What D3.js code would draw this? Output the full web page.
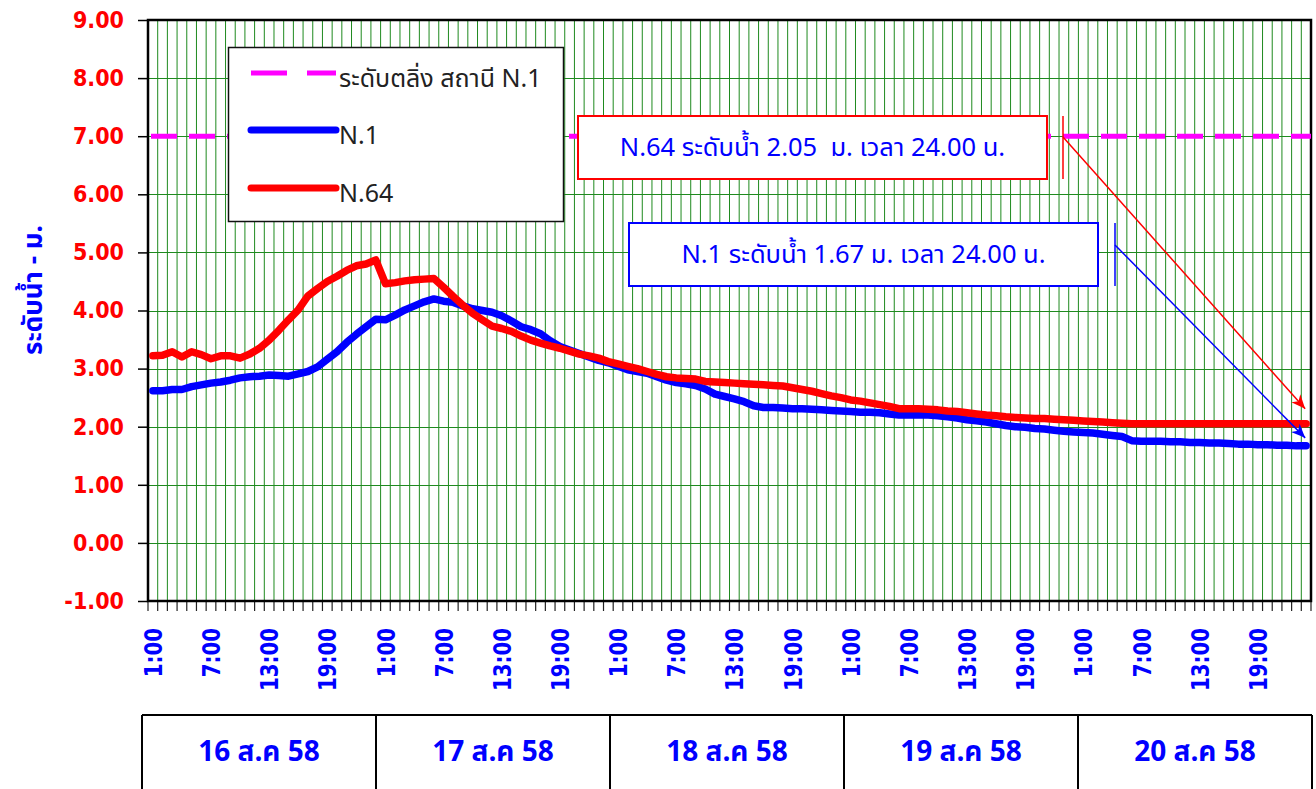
<!DOCTYPE html>
<html><head><meta charset="utf-8">
<script src="https://cdn.jsdelivr.net/npm/d3@7"></script>
<style>body{margin:0;background:#fff;} svg{display:block;}</style>
</head><body>
<svg id="c" width="1316" height="789"></svg>
<script>
// ---------------- data ----------------
const days = ["16 ส.ค 58","17 ส.ค 58","18 ส.ค 58","19 ส.ค 58","20 ส.ค 58"];
const hours = ["1:00","2:00","3:00","4:00","5:00","6:00","7:00","8:00","9:00","10:00","11:00","12:00",
               "13:00","14:00","15:00","16:00","17:00","18:00","19:00","20:00","21:00","22:00","23:00","24:00"];
const shownHours = ["1:00","7:00","13:00","19:00"];
const yTicks = [-1,0,1,2,3,4,5,6,7,8,9];
const bankLevel = 7.00;
const seriesNames = ["ระดับตลิ่ง สถานี N.1","N.1","N.64"];
const noteTexts = ["N.64 ระดับน้ำ 2.05  ม. เวลา 24.00 น.","N.1 ระดับน้ำ 1.67 ม. เวลา 24.00 น."];
const yTitle = "ระดับน้ำ - ม.";

const n1 = [
 2.62,2.62,2.64,2.64,2.69,2.72,2.75,2.77,2.80,2.84,2.86,2.87,2.89,2.88,2.87,2.91,2.95,3.03,3.16,3.29,3.45,3.59,3.72,3.85,
 3.84,3.92,4.01,4.08,4.15,4.20,4.16,4.14,4.08,4.03,4.00,3.97,3.91,3.82,3.72,3.67,3.60,3.48,3.38,3.32,3.26,3.20,3.14,3.10,
 3.04,2.98,2.95,2.92,2.86,2.80,2.76,2.74,2.71,2.65,2.56,2.52,2.48,2.43,2.36,2.33,2.33,2.32,2.31,2.31,2.30,2.29,2.28,2.27,
 2.26,2.25,2.25,2.24,2.22,2.20,2.20,2.20,2.20,2.19,2.17,2.15,2.12,2.10,2.08,2.05,2.02,2.00,1.99,1.97,1.96,1.94,1.92,1.91,
 1.90,1.89,1.87,1.85,1.83,1.76,1.75,1.75,1.75,1.74,1.74,1.73,1.73,1.72,1.72,1.71,1.70,1.70,1.69,1.69,1.68,1.68,1.67,1.67
];
const n64 = [
 3.22,3.23,3.29,3.20,3.29,3.24,3.17,3.22,3.22,3.18,3.25,3.35,3.49,3.66,3.84,4.01,4.25,4.38,4.50,4.59,4.69,4.77,4.80,4.87,
 4.46,4.48,4.51,4.53,4.54,4.55,4.40,4.24,4.09,3.95,3.84,3.73,3.69,3.64,3.56,3.49,3.44,3.39,3.35,3.30,3.25,3.22,3.18,3.12,
 3.08,3.04,3.00,2.95,2.90,2.86,2.84,2.83,2.82,2.78,2.77,2.76,2.75,2.74,2.73,2.72,2.71,2.70,2.67,2.64,2.61,2.57,2.53,2.50,
 2.46,2.44,2.41,2.38,2.35,2.31,2.31,2.31,2.30,2.29,2.27,2.26,2.24,2.22,2.20,2.19,2.17,2.16,2.15,2.14,2.14,2.13,2.12,2.11,
 2.10,2.09,2.08,2.07,2.06,2.05,2.05,2.05,2.05,2.05,2.05,2.05,2.05,2.05,2.05,2.05,2.05,2.05,2.05,2.05,2.05,2.05,2.05,2.05
];

// ---------------- layout ----------------
const L = 148, R = 1311, T = 20, B = 601;
const numFont = "'DejaVu Sans Condensed','DejaVu Sans',sans-serif";
const thaiFont = "Tahoma,'Noto Sans Thai','Noto Sans Thai UI','Loma','Garuda','Noto Sans','DejaVu Sans',sans-serif";
const BLUE = "#0000ff", RED = "#ff0000", MAG = "#ff00ff", GRID = "#1f8a1f";

const cats = days.flatMap(d => hours.map(h => d + "|" + h));
const x = d3.scaleBand().domain(cats).range([L, R]).padding(0);
const cx = i => x(cats[i]) + x.bandwidth() / 2;
const y = d3.scaleLinear().domain([-1, 9]).range([B, T]);

const svg = d3.select("#c");
svg.append("rect").attr("width", 1316).attr("height", 789).attr("fill", "#fff");

// vertical grid lines (category boundaries)
const bounds = cats.map(c => x(c)).concat([R]);
svg.append("g").selectAll("line").data(bounds.slice(1, -1)).join("line")
  .attr("x1", d => d).attr("x2", d => d).attr("y1", T).attr("y2", B)
  .attr("stroke", GRID).attr("stroke-width", 1);

// horizontal grid lines
svg.append("g").selectAll("line").data(yTicks).join("line")
  .attr("x1", L).attr("x2", R).attr("y1", d => Math.round(y(d)) + 0.5).attr("y2", d => Math.round(y(d)) + 0.5)
  .attr("stroke", GRID).attr("stroke-width", 1.2);

// y axis
const yAxis = svg.append("g").attr("transform", `translate(${L},0)`)
  .call(d3.axisLeft(y).tickValues(yTicks).tickSize(10).tickPadding(14).tickFormat(d => d.toFixed(2)));
yAxis.select(".domain").remove();
yAxis.selectAll(".tick line").attr("stroke", "#000").attr("stroke-width", 1.5);
yAxis.selectAll(".tick text").attr("fill", RED).attr("font-family", numFont).attr("font-size", 23)
  .attr("font-weight", "bold");

// x tick marks at category boundaries
svg.append("g").selectAll("line").data(bounds).join("line")
  .attr("x1", d => d).attr("x2", d => d).attr("y1", B).attr("y2", B + 10)
  .attr("stroke", "#222").attr("stroke-width", 1.2);

// x tick labels
const labIdx = d3.range(cats.length).filter(i => shownHours.includes(cats[i].split("|")[1]));
svg.append("g").selectAll("text").data(labIdx).join("text")
  .attr("transform", i => `translate(${cx(i)},628) rotate(-90) scale(1,1.15)`)
  .attr("text-anchor", "end").attr("dy", "0.36em")
  .attr("fill", BLUE).attr("font-family", numFont).attr("font-size", 22).attr("font-weight", "bold")
  .text(i => cats[i].split("|")[1]);

// plot border
svg.append("rect").attr("x", L).attr("y", T).attr("width", R - L).attr("height", B - T)
  .attr("fill", "none").attr("stroke", "#000").attr("stroke-width", 2.5);

// bank level dashed line
svg.append("line").attr("x1", L + 3).attr("x2", R).attr("y1", y(bankLevel)).attr("y2", y(bankLevel))
  .attr("stroke", MAG).attr("stroke-width", 5).attr("stroke-dasharray", "26 12");

// series lines
const line = d3.line().x((d, i) => cx(i)).y(d => y(d));
svg.append("path").datum(n1).attr("d", line).attr("fill", "none").attr("stroke", BLUE)
  .attr("stroke-width", 7.5).attr("stroke-linejoin", "round").attr("stroke-linecap", "round");
svg.append("path").datum(n64).attr("d", line).attr("fill", "none").attr("stroke", RED)
  .attr("stroke-width", 7.5).attr("stroke-linejoin", "round").attr("stroke-linecap", "round");

// legend
const lg = svg.append("g");
lg.append("rect").attr("x", 228.5).attr("y", 47.5).attr("width", 335).attr("height", 174)
  .attr("fill", "#fff").attr("stroke", "#111").attr("stroke-width", 1.5);
const legendRows = [
  {name: seriesNames[0], color: MAG, dash: "36 20", w: 5, cap: "butt", ly: 73},
  {name: seriesNames[1], color: BLUE, dash: null, w: 7, cap: "round", ly: 130},
  {name: seriesNames[2], color: RED, dash: null, w: 7, cap: "round", ly: 188}
];
legendRows.forEach(r => {
  lg.append("line").attr("x1", 251).attr("x2", 336).attr("y1", r.ly).attr("y2", r.ly)
    .attr("stroke", r.color).attr("stroke-width", r.w).attr("stroke-linecap", r.cap)
    .attr("stroke-dasharray", r.dash);
  lg.append("text").attr("x", 339).attr("y", r.ly + 14).attr("fill", "#222")
    .attr("font-family", thaiFont).attr("font-size", 25).text(r.name);
});

// annotations
const notes = [
  {text: noteTexts[0], color: RED, bx: 578, by: 116, bw: 469, bh: 63, tickX: 1063, startY: 137,
   series: n64, tipDy: -15},
  {text: noteTexts[1], color: BLUE, bx: 629, by: 223, bw: 469, bh: 63, tickX: 1115, startY: 245,
   series: n1, tipDy: -8}
];
const defs = svg.append("defs");
notes.forEach((n, k) => {
  defs.append("marker").attr("id", "arr" + k).attr("viewBox", "-14 -7 16 14")
    .attr("refX", 0).attr("refY", 0).attr("markerWidth", 16).attr("markerHeight", 14)
    .attr("markerUnits", "userSpaceOnUse").attr("orient", "auto")
    .append("path").attr("d", "M0,0 L-14,-6 L-10,0 L-14,6 Z").attr("fill", n.color);
  const g = svg.append("g");
  g.append("rect").attr("x", n.bx).attr("y", n.by).attr("width", n.bw).attr("height", n.bh)
    .attr("fill", "#fff").attr("stroke", n.color).attr("stroke-width", 2);
  g.append("text").attr("x", n.bx + n.bw / 2).attr("y", n.by + n.bh / 2).attr("dy", "0.35em")
    .attr("text-anchor", "middle").attr("fill", BLUE).attr("font-family", thaiFont)
    .attr("font-size", 25.5).style("white-space", "pre").text(n.text);
  g.append("line").attr("x1", n.tickX).attr("x2", n.tickX).attr("y1", n.by).attr("y2", n.by + n.bh)
    .attr("stroke", n.color).attr("stroke-width", 1.5);
  const last = n.series.length - 1;
  g.append("line").attr("x1", n.tickX).attr("y1", n.startY)
    .attr("x2", cx(last) - 1).attr("y2", y(n.series[last]) + n.tipDy)
    .attr("stroke", n.color).attr("stroke-width", 1.5).attr("marker-end", `url(#arr${k})`);
});

// y axis title
svg.append("text").attr("transform", "translate(33,290) rotate(-90)").attr("text-anchor", "middle")
  .attr("dy", "0.35em").attr("fill", BLUE).attr("font-weight", "bold").attr("font-family", thaiFont)
  .attr("font-size", 26).text(yTitle);

// day table
const dayEdges = [142, 376, 610, 844, 1078, 1312];
const tb = svg.append("g");
tb.append("line").attr("x1", 142).attr("x2", 1312).attr("y1", 715).attr("y2", 715)
  .attr("stroke", "#000").attr("stroke-width", 2);
tb.selectAll("line.v").data(dayEdges).join("line").attr("class", "v")
  .attr("x1", d => d).attr("x2", d => d).attr("y1", 715).attr("y2", 789)
  .attr("stroke", "#000").attr("stroke-width", 2);
tb.selectAll("text").data(days).join("text")
  .attr("x", (d, i) => (dayEdges[i] + dayEdges[i + 1]) / 2).attr("y", 751).attr("dy", "0.35em")
  .attr("text-anchor", "middle").attr("fill", BLUE).attr("font-family", thaiFont).attr("font-size", 28)
  .attr("font-weight", "bold").text(d => d);
</script>
</body></html>
